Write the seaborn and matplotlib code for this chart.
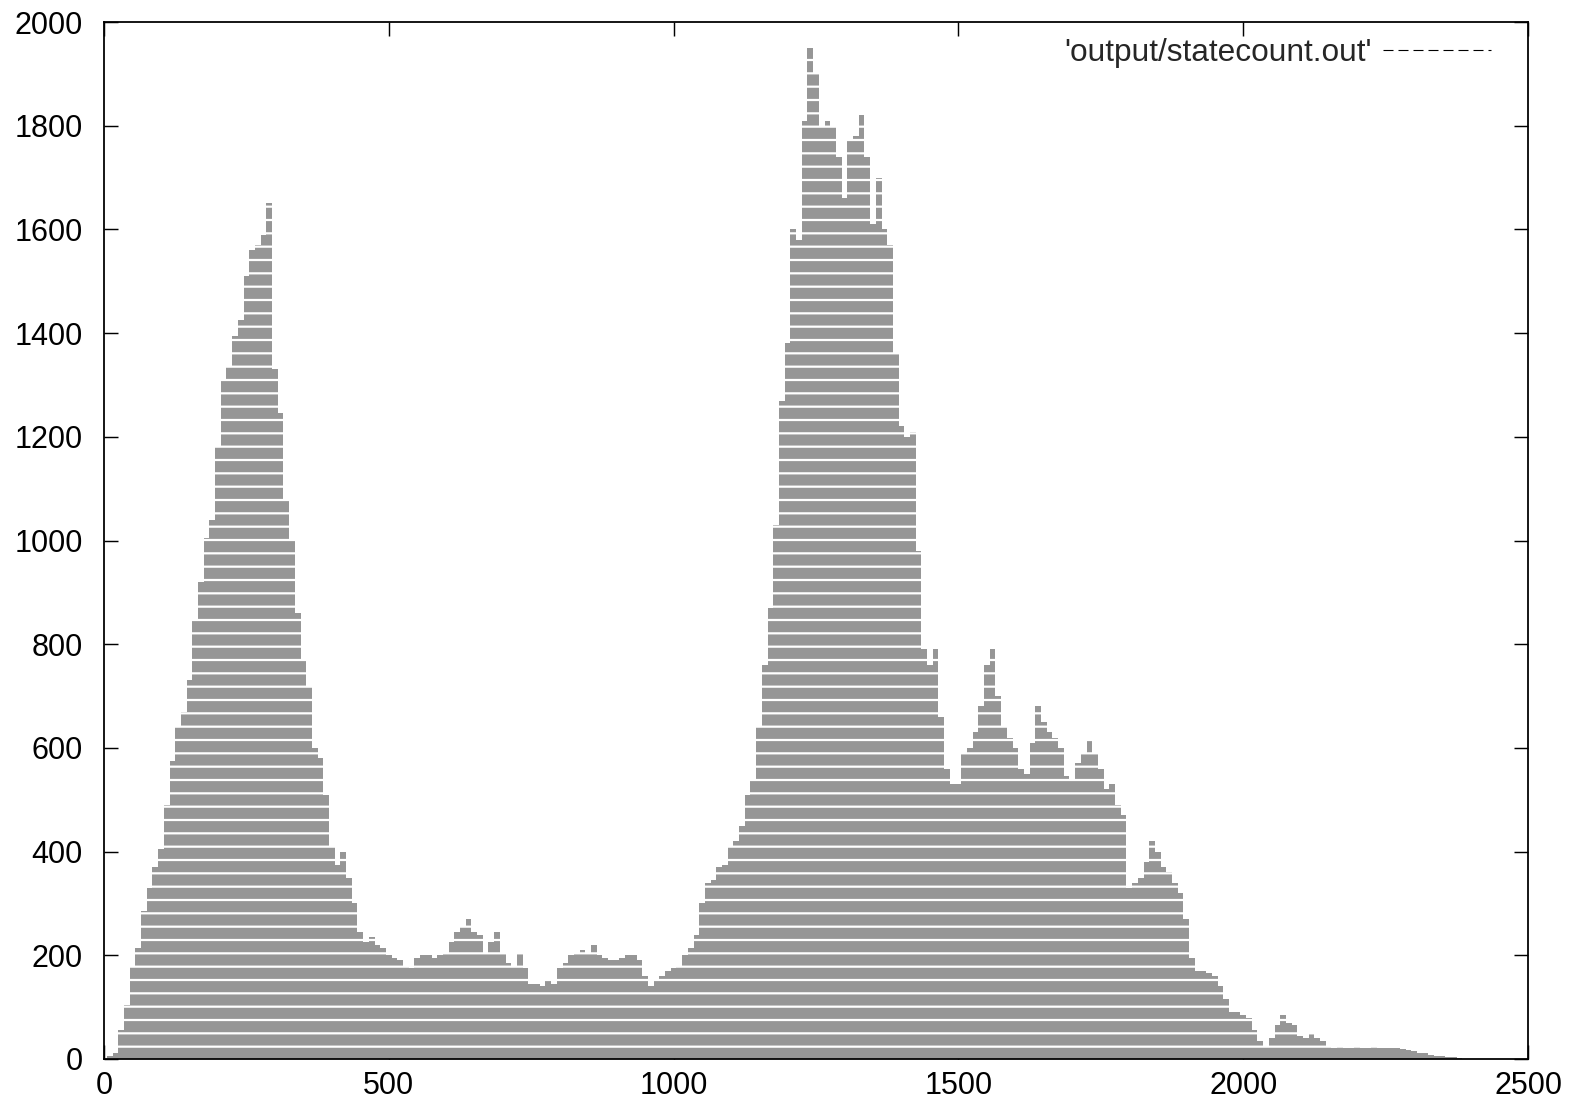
import matplotlib
matplotlib.use("Agg")
import matplotlib.pyplot as plt
from matplotlib.lines import Line2D
import seaborn as sns
import pandas as pd

# ---- data ----
step_x = list(range(0, 2390, 10))
state_count = [
    0, 5, 12, 55, 105, 180, 215, 285, 330, 370,          # 0-90
    405, 490, 575, 640, 670, 730, 845, 920, 1005, 1040,  # 100-190
    1180, 1310, 1335, 1395, 1425, 1510, 1560, 1570, 1590, 1650,  # 200-290
    1330, 1245, 1080, 1000, 860, 770, 720, 600, 580, 510,  # 300-390
    410, 375, 400, 350, 300, 245, 225, 235, 220, 215,    # 400-490
    200, 195, 190, 180, 175, 195, 200, 200, 195, 200,    # 500-590
    205, 225, 245, 255, 270, 245, 240, 205, 225, 245,    # 600-690
    205, 185, 180, 205, 175, 145, 145, 140, 150, 145,    # 700-790
    175, 185, 200, 205, 210, 205, 220, 200, 195, 190,    # 800-890
    190, 195, 200, 200, 190, 160, 140, 150, 160, 170,    # 900-990
    175, 180, 200, 215, 240, 300, 340, 345, 370, 375,    # 1000-1090
    410, 420, 450, 510, 540, 640, 760, 870, 1030, 1270,  # 1100-1190
    1380, 1600, 1580, 1810, 1950, 1900, 1800, 1810, 1800, 1740,  # 1200-1290
    1660, 1770, 1780, 1820, 1740, 1610, 1700, 1600, 1570, 1360,  # 1300-1390
    1220, 1200, 1210, 980, 790, 760, 790, 660, 560, 530,  # 1400-1490
    530, 590, 600, 630, 680, 760, 790, 700, 640, 620,    # 1500-1590
    600, 560, 550, 610, 680, 650, 630, 620, 600, 545,    # 1600-1690
    540, 570, 590, 615, 590, 560, 520, 530, 490, 470,    # 1700-1790
    330, 340, 350, 380, 420, 400, 370, 360, 340, 320,    # 1800-1890
    270, 195, 170, 170, 165, 160, 140, 115, 90, 90,      # 1900-1990
    85, 80, 55, 35, 25, 40, 65, 85, 70, 65,              # 2000-2090
    45, 40, 50, 40, 35, 25, 22, 24, 22, 22,              # 2100-2190
    24, 22, 22, 24, 22, 22, 22, 22, 20, 18,              # 2200-2290
    15, 12, 12, 8, 6, 5, 4, 3, 2,                        # 2300-2380
]
x_ticks = [0, 500, 1000, 1500, 2000, 2500]
y_ticks = [0, 200, 400, 600, 800, 1000, 1200, 1400, 1600, 1800, 2000]
series_label = "'output/statecount.out'"

df = pd.DataFrame({"x": step_x[:len(state_count)], "count": state_count})

# ---- style ----
sns.set_style("ticks")
plt.rcParams["font.family"] = ["Liberation Sans", "DejaVu Sans"]
plt.rcParams["hatch.color"] = "white"
plt.rcParams["hatch.linewidth"] = 2.0

DPI = 80
fig = plt.figure(figsize=(1579 / DPI, 1111 / DPI), dpi=DPI)
ax = fig.add_axes([104 / 1579, 52 / 1111, 1424 / 1579, 1037 / 1111])

sns.barplot(data=df, x="x", y="count", native_scale=True, width=1.0,
            color="#969696", saturation=1, errorbar=None,
            linewidth=0, edgecolor="white", hatch="-", ax=ax)

ax.set_xlim(0, 2500)
ax.set_ylim(0, 2000)
ax.set_xticks(x_ticks)
ax.set_yticks(y_ticks)
ax.set_xlabel("")
ax.set_ylabel("")

for s in ax.spines.values():
    s.set_visible(True)
    s.set_linewidth(1.6)
    s.set_color("black")

ax.tick_params(axis="both", direction="in", length=12.6, width=1.3,
               top=True, right=True, labelsize=27.5, colors="black")
ax.tick_params(axis="x", pad=11)
ax.tick_params(axis="y", pad=19)

handle = Line2D([], [], color="black", lw=1.0, linestyle=(0, (9, 4.5)))
ax.legend(handles=[handle], labels=[series_label], loc="center right",
          bbox_to_anchor=(0.974, 0.970), frameon=False, markerfirst=False,
          handlelength=3.4, handletextpad=0.35, borderpad=0, borderaxespad=0,
          fontsize=28.5)

fig.savefig("out.png", dpi=DPI, facecolor="white")
